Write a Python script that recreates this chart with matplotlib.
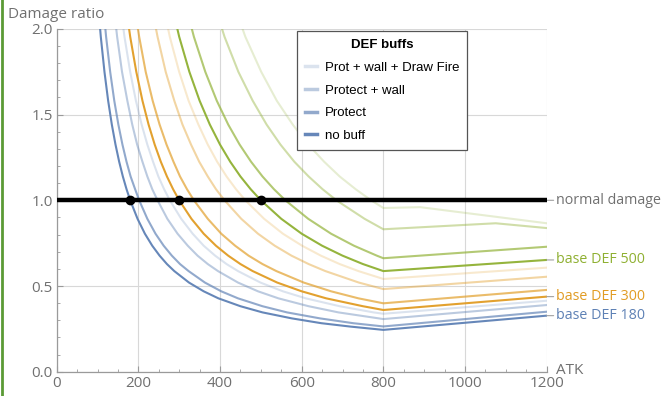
import matplotlib
matplotlib.use("Agg")
import matplotlib.pyplot as plt
from matplotlib.lines import Line2D

# ---------------- data ----------------
buff_labels = ["Prot + wall + Draw Fire", "Protect + wall", "Protect", "no buff"]
base_def_labels = ["base DEF 180", "base DEF 300", "base DEF 500"]
base_def_label_y = [0.327, 0.438, 0.652]
crossing_atk = [180, 300, 500]
crossing_ratio = [1.0, 1.0, 1.0]
normal_level = 1.0

# base DEF 180 (blue)
b180_nobuff_atk = [99, 108, 117, 126, 135, 144, 153, 162, 171, 180, 198, 216, 234, 252, 270, 288, 324, 360, 396, 450, 504, 576, 648, 720, 800, 1200]
b180_nobuff_ratio = [2.210, 1.954, 1.749, 1.581, 1.442, 1.325, 1.225, 1.139, 1.065, 1.000, 0.892, 0.805, 0.735, 0.677, 0.628, 0.587, 0.520, 0.469, 0.428, 0.382, 0.346, 0.311, 0.283, 0.263, 0.244, 0.327]
b180_prot_atk = [111, 121, 131, 141, 151, 161, 171, 181, 192, 202, 222, 242, 262, 282, 302, 323, 363, 403, 444, 504, 564, 645, 726, 800, 1200]
b180_prot_ratio = [2.210, 1.954, 1.749, 1.581, 1.442, 1.325, 1.225, 1.139, 1.065, 1.000, 0.892, 0.805, 0.735, 0.677, 0.628, 0.587, 0.520, 0.469, 0.428, 0.382, 0.346, 0.311, 0.283, 0.264, 0.350]
b180_wall_atk = [136, 148, 160, 173, 185, 197, 210, 222, 234, 247, 271, 296, 321, 345, 370, 395, 444, 493, 543, 617, 690, 789, 800, 1200]
b180_wall_ratio = [2.210, 1.954, 1.749, 1.581, 1.442, 1.325, 1.225, 1.139, 1.065, 1.000, 0.892, 0.805, 0.735, 0.677, 0.628, 0.587, 0.520, 0.469, 0.428, 0.382, 0.346, 0.311, 0.307, 0.389]
b180_df_atk = [152, 166, 180, 194, 208, 222, 236, 249, 263, 277, 305, 333, 360, 388, 416, 444, 499, 554, 610, 693, 776, 800, 1200]
b180_df_ratio = [2.210, 1.954, 1.749, 1.581, 1.442, 1.325, 1.225, 1.139, 1.065, 1.000, 0.892, 0.805, 0.735, 0.677, 0.628, 0.587, 0.520, 0.469, 0.428, 0.382, 0.346, 0.338, 0.414]

# base DEF 300 (orange)
b300_nobuff_atk = [165, 180, 195, 210, 225, 240, 255, 270, 285, 300, 330, 360, 390, 420, 450, 480, 540, 600, 660, 750, 800, 1200]
b300_nobuff_ratio = [2.210, 1.954, 1.749, 1.581, 1.442, 1.325, 1.225, 1.139, 1.065, 1.000, 0.892, 0.805, 0.735, 0.677, 0.628, 0.587, 0.520, 0.469, 0.428, 0.382, 0.360, 0.438]
b300_prot_atk = [185, 202, 218, 235, 252, 269, 286, 302, 319, 336, 370, 403, 437, 470, 504, 538, 605, 672, 739, 800, 1200]
b300_prot_ratio = [2.210, 1.954, 1.749, 1.581, 1.442, 1.325, 1.225, 1.139, 1.065, 1.000, 0.892, 0.805, 0.735, 0.677, 0.628, 0.587, 0.520, 0.469, 0.428, 0.399, 0.477]
b300_wall_atk = [226, 247, 267, 288, 308, 329, 349, 370, 390, 411, 452, 493, 534, 575, 617, 658, 740, 800, 1200]
b300_wall_ratio = [2.210, 1.954, 1.749, 1.581, 1.442, 1.325, 1.225, 1.139, 1.065, 1.000, 0.892, 0.805, 0.735, 0.677, 0.628, 0.587, 0.520, 0.482, 0.554]
b300_df_atk = [254, 277, 300, 323, 347, 370, 393, 416, 439, 462, 508, 554, 601, 647, 693, 739, 800, 1200]
b300_df_ratio = [2.210, 1.954, 1.749, 1.581, 1.442, 1.325, 1.225, 1.139, 1.065, 1.000, 0.892, 0.805, 0.735, 0.677, 0.628, 0.587, 0.541, 0.607]

# base DEF 500 (green)
b500_nobuff_atk = [275, 300, 325, 350, 375, 400, 425, 450, 475, 500, 550, 600, 650, 700, 750, 800, 1200]
b500_nobuff_ratio = [2.210, 1.954, 1.749, 1.581, 1.442, 1.325, 1.225, 1.139, 1.065, 1.000, 0.892, 0.805, 0.735, 0.677, 0.628, 0.587, 0.652]
b500_prot_atk = [308, 336, 364, 392, 420, 448, 476, 504, 532, 560, 616, 672, 728, 784, 800, 1200]
b500_prot_ratio = [2.210, 1.954, 1.749, 1.581, 1.442, 1.325, 1.225, 1.139, 1.065, 1.000, 0.892, 0.805, 0.735, 0.677, 0.662, 0.729]
b500_wall_atk = [377, 411, 445, 480, 514, 548, 582, 617, 651, 685, 754, 800, 1075, 1200]
b500_wall_ratio = [2.210, 1.954, 1.749, 1.581, 1.442, 1.325, 1.225, 1.139, 1.065, 1.000, 0.892, 0.831, 0.866, 0.838]
b500_df_atk = [424, 462, 501, 539, 578, 616, 655, 693, 732, 770, 800, 890, 1200]
b500_df_ratio = [2.210, 1.954, 1.749, 1.581, 1.442, 1.325, 1.225, 1.139, 1.065, 1.000, 0.955, 0.960, 0.866]

x_ticks = [0, 200, 400, 600, 800, 1000, 1200]
y_ticks = [0.0, 0.5, 1.0, 1.5, 2.0]

# ---------------- styling ----------------
BLUE = "#5E81B5"
ORANGE = "#E19C24"
GREEN = "#8FB032"
ALPHAS = {"df": 0.22, "wall": 0.42, "prot": 0.68, "nobuff": 0.95}
TXT = "#707070"
AXC = "#9a9a9a"

fig = plt.figure(figsize=(6.68, 3.96), dpi=100)
ax = fig.add_axes([56.7 / 668, 1 - 371.7 / 396, 490 / 668, 342.8 / 396])

series = [
    (b500_df_atk, b500_df_ratio, GREEN, "df"),
    (b500_wall_atk, b500_wall_ratio, GREEN, "wall"),
    (b500_prot_atk, b500_prot_ratio, GREEN, "prot"),
    (b500_nobuff_atk, b500_nobuff_ratio, GREEN, "nobuff"),
    (b300_df_atk, b300_df_ratio, ORANGE, "df"),
    (b300_wall_atk, b300_wall_ratio, ORANGE, "wall"),
    (b300_prot_atk, b300_prot_ratio, ORANGE, "prot"),
    (b300_nobuff_atk, b300_nobuff_ratio, ORANGE, "nobuff"),
    (b180_df_atk, b180_df_ratio, BLUE, "df"),
    (b180_wall_atk, b180_wall_ratio, BLUE, "wall"),
    (b180_prot_atk, b180_prot_ratio, BLUE, "prot"),
    (b180_nobuff_atk, b180_nobuff_ratio, BLUE, "nobuff"),
]
for xs, ys, col, kind in series:
    ax.plot(xs, ys, color=col, alpha=ALPHAS[kind], lw=1.5, solid_joinstyle="round", zorder=3)

# normal damage line + crossing points
ax.plot([x_ticks[0], x_ticks[-1]], [normal_level, normal_level], color="black", lw=3.2, zorder=4,
        solid_capstyle="butt")
ax.plot(crossing_atk, crossing_ratio, "o", color="black", ms=6, zorder=5)

ax.set_xlim(0, 1200)
ax.set_ylim(0, 2.0)
ax.set_xticks(x_ticks)
ax.set_yticks(y_ticks)
ax.set_xticklabels([str(v) for v in x_ticks])
ax.set_yticklabels([f"{v:.1f}" for v in y_ticks])
ax.set_xticks(range(0, 1201, 50), minor=True)
ax.set_yticks([i / 10 for i in range(0, 21)], minor=True)
ax.grid(True, which="major", color="#d8d8d8", lw=0.8, zorder=0)
ax.tick_params(which="both", direction="in", color=AXC, labelcolor=TXT,
               labelsize=11, top=False, right=False)
ax.tick_params(which="major", length=4, width=0.8, pad=3)
ax.tick_params(which="minor", length=2, width=0.6)
for lab in ax.get_xticklabels() + ax.get_yticklabels():
    lab.set_fontfamily("Open Sans")
for side in ["top", "right"]:
    ax.spines[side].set_visible(False)
for side in ["left", "bottom"]:
    ax.spines[side].set_color(AXC)
    ax.spines[side].set_linewidth(0.9)

# right-side labels
right_labels = [("normal damage", normal_level, TXT)] + [
    (base_def_labels[i], base_def_label_y[i], c) for i, c in enumerate([BLUE, ORANGE, GREEN])
]
for txt, yv, col in right_labels:
    ax.annotate(txt, xy=(1200, yv), xytext=(7, 0), textcoords="offset points",
                va="center", ha="left", color=col, fontsize=10.3, family="Open Sans",
                arrowprops=dict(arrowstyle="-", color="#a0a0a0", lw=0.8,
                                shrinkA=0, shrinkB=0), annotation_clip=False)

fig.text(8 / 668, 1 - 15 / 396, "Damage ratio", fontsize=11, color=TXT,
         family="Open Sans", va="center", ha="left")
fig.text(556 / 668, 1 - 370 / 396, "ATK", fontsize=11, color=TXT,
         family="Open Sans", va="center", ha="left")

# legend
legend_kinds = ["df", "wall", "prot", "nobuff"]
handles = [Line2D([0], [0], color=BLUE, alpha=ALPHAS[k], lw=2.5) for k in legend_kinds]
leg = fig.legend(handles, buff_labels, title="DEF buffs", loc="upper left",
                 bbox_to_anchor=(297 / 668, 1 - 31 / 396), borderaxespad=0,
                 frameon=True, fancybox=False, handlelength=0.9, handletextpad=0.6,
                 labelspacing=0.8, borderpad=0.6,
                 prop={"family": "Liberation Sans", "size": 9.5},
                 title_fontproperties={"family": "Liberation Sans", "size": 9.5, "weight": "bold"})
leg.get_frame().set_edgecolor("#555555")
leg.get_frame().set_linewidth(0.9)
leg.get_frame().set_facecolor("white")
leg.get_frame().set_alpha(1)

# green border line at left edge of the screenshot
fig.add_artist(Line2D([0.0025, 0.0025], [0, 1], transform=fig.transFigure, color="#5b9a35", lw=2))

fig.savefig("out.png", dpi=100)
